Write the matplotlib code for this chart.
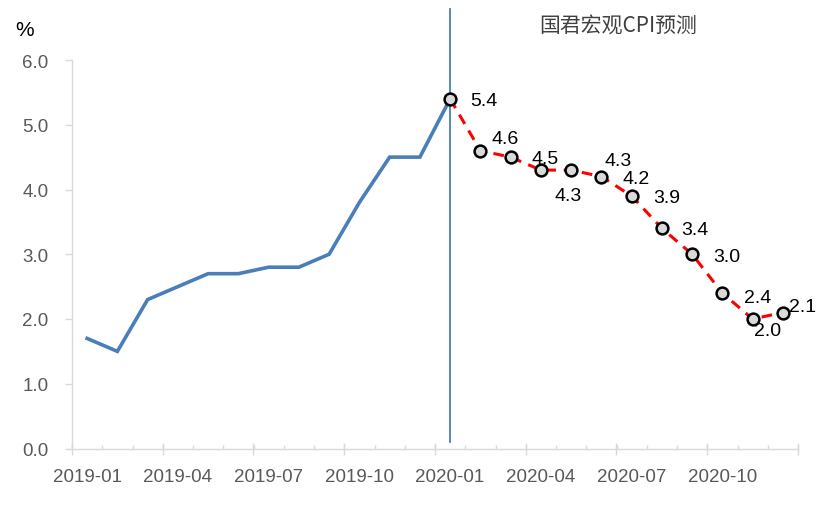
import matplotlib
matplotlib.use("Agg")
import matplotlib.pyplot as plt

plt.rcParams['font.family'] = ['Liberation Sans', 'Noto Sans CJK SC', 'DejaVu Sans']

months = ['2019-01', '2019-02', '2019-03', '2019-04', '2019-05', '2019-06',
          '2019-07', '2019-08', '2019-09', '2019-10', '2019-11', '2019-12',
          '2020-01', '2020-02', '2020-03', '2020-04', '2020-05', '2020-06',
          '2020-07', '2020-08', '2020-09', '2020-10', '2020-11', '2020-12']
actual = [1.7, 1.5, 2.3, 2.5, 2.7, 2.7, 2.8, 2.8, 3.0, 3.8, 4.5, 4.5, 5.4]
forecast = [5.4, 4.6, 4.5, 4.3, 4.3, 4.2, 3.9, 3.4, 3.0, 2.4, 2.0, 2.1]
title = '国君宏观CPI预测'

# label offsets in pixels (dx, dy), dy positive = down
offsets = [(34, 2), (25, -12), (35, 1), (27, 25), (47, -10), (35, 2),
           (35, 2), (33, 1), (35, 2), (35, 4), (15, 11), (20, -6)]

fig = plt.figure(figsize=(8.24, 5.06), dpi=100)
ax = fig.add_axes([72 / 824, 1 - 449.5 / 506, 726 / 824, 388.5 / 506])

x_act = list(range(len(actual)))
x_fc = list(range(len(actual) - 1, len(actual) - 1 + len(forecast)))

ax.plot(x_act, actual, color='#4A7EBB', lw=2.6, solid_joinstyle='miter', zorder=3)
ax.plot(x_fc, forecast, color='#FF0000', lw=2.2, dashes=(3.5, 2.5), zorder=3)
ax.plot(x_fc, forecast, ls='none', marker='o', ms=8.5, mfc='#D9D9D9', mec='black',
        mew=1.8, zorder=4)

for x, v, (dx, dy) in zip(x_fc, forecast, offsets):
    ax.annotate(f'{v:.1f}', (x, v), xytext=(dx, -dy), textcoords='offset pixels',
                ha='center', va='center', fontsize=14, color='black', zorder=5)

ax.axvline(len(actual) - 1, ymin=0.017, ymax=1.131, color='#4A7EBB', lw=1.3,
           clip_on=False, zorder=2)

ax.set_xlim(-0.5, len(months) - 0.5)
ax.set_ylim(0, 6)
ax.set_yticks([0, 1, 2, 3, 4, 5, 6])
ax.set_yticklabels([f'{v:.1f}' for v in range(7)])

ax.set_xticks(range(0, len(months), 3))
ax.set_xticklabels(months[::3])
ax.set_xticks([i - 0.5 for i in range(len(months) + 1)], minor=True)
ax.tick_params(axis='x', which='major', length=0, pad=14, labelsize=13.5, labelcolor='#595959')
ax.tick_params(axis='x', which='minor', direction='in', length=3, width=1, color='#D9D9D9')
ax.tick_params(axis='y', length=5, width=1, color='#D9D9D9', pad=12, labelsize=13.5,
               labelcolor='#595959')

sec = ax.secondary_xaxis('bottom')
sec.set_xticks([i - 0.5 for i in range(0, len(months) + 1, 3)])
sec.set_xticklabels([])
sec.tick_params(direction='inout', length=9, width=1, color='#D9D9D9')
sec.spines['bottom'].set_visible(False)

for s in ['top', 'right']:
    ax.spines[s].set_visible(False)
for s in ['left', 'bottom']:
    ax.spines[s].set_color('#D9D9D9')
    ax.spines[s].set_linewidth(1)

fig.text(25 / 824, 1 - 30 / 506, '%', fontsize=15, color='black', ha='center', va='center')
fig.text(618 / 824, 1 - 27 / 506, title, fontsize=15, color='#404040', ha='center',
         va='center', family=['Noto Sans CJK SC', 'DejaVu Sans'])

fig.savefig('out.png', dpi=100)
